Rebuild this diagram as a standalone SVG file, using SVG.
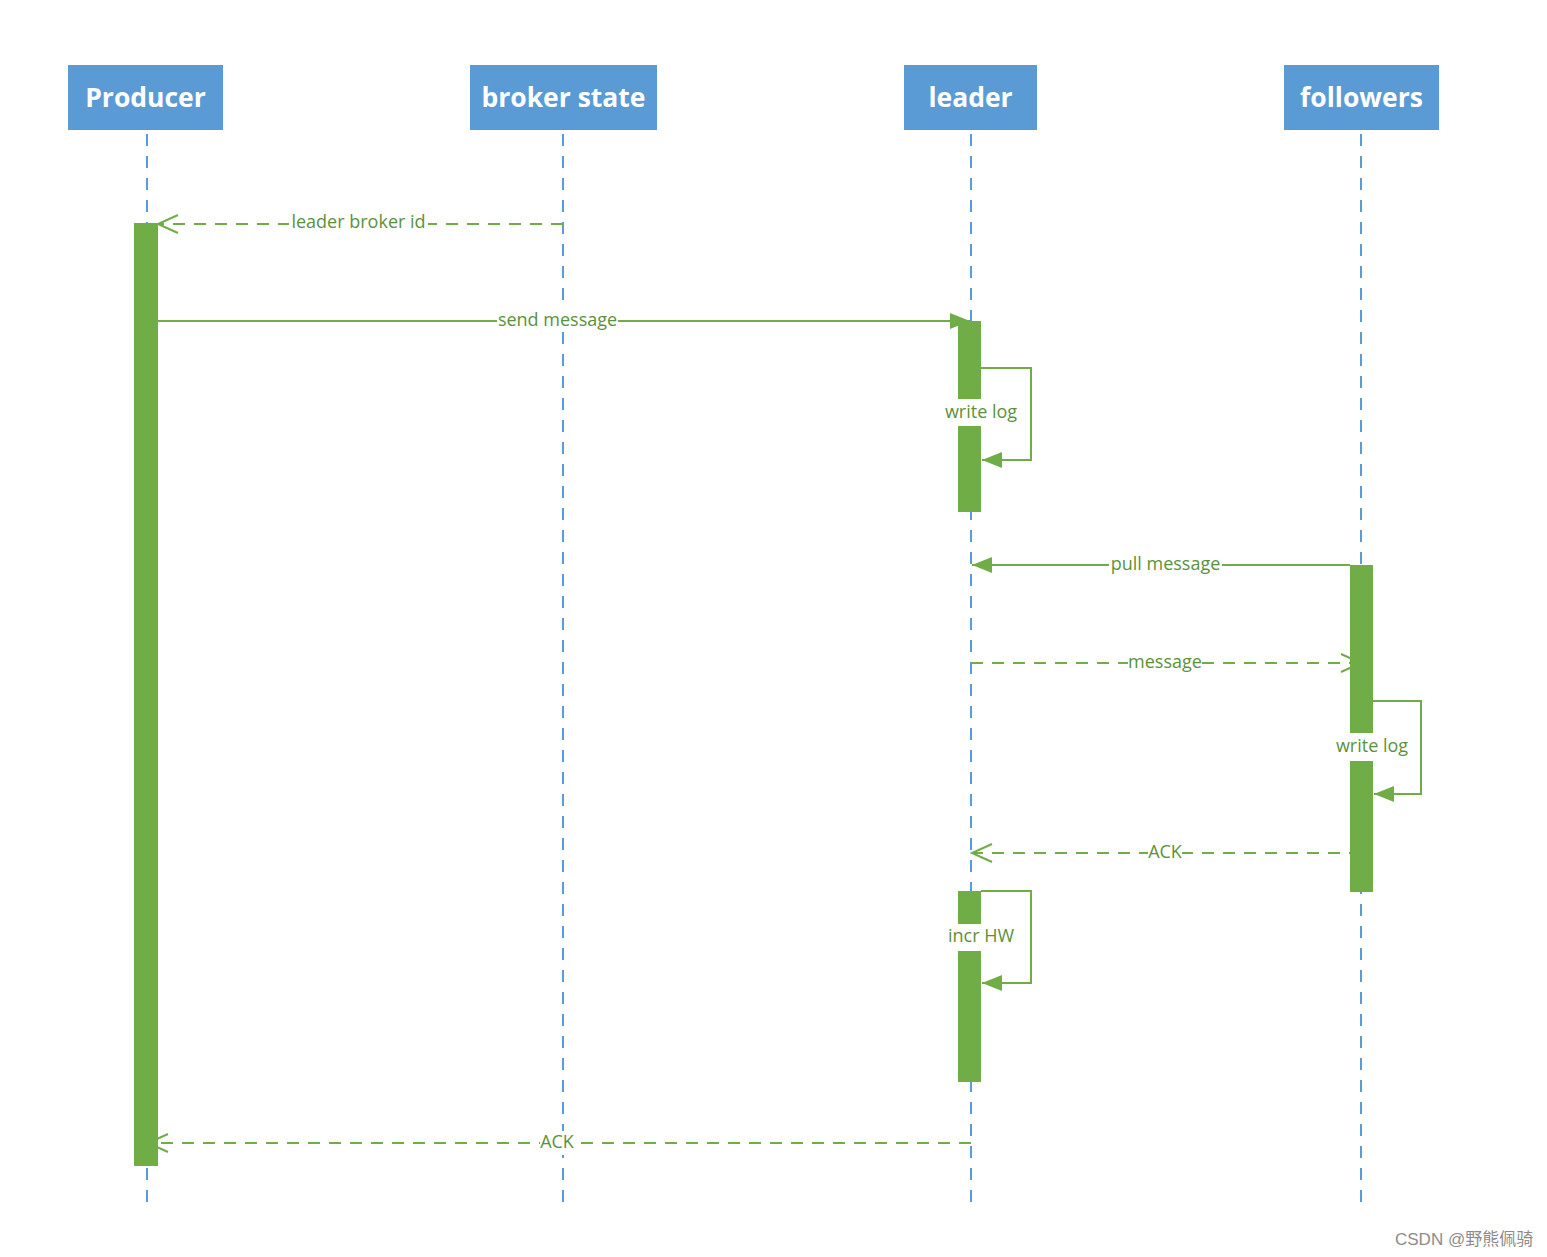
<svg xmlns="http://www.w3.org/2000/svg" width="1547" height="1257" viewBox="0 0 1547 1257">
<style>
.head{fill:#5b9bd5}
.headt{font-family:"Open Sans","Liberation Sans",sans-serif;font-weight:bold;font-size:26.5px;fill:#ffffff;text-anchor:middle}
.life{stroke:#5b9bd5;stroke-width:2;stroke-dasharray:12,10;fill:none}
.bar{fill:#70ad47}
.msg{stroke:#70ad47;stroke-width:2;fill:none}
.dash{stroke-dasharray:12,9}
.bg{fill:#ffffff}
.lbl{font-family:"Open Sans","Liberation Sans",sans-serif;font-size:18px;fill:#5b9239;text-anchor:middle}
.wm{font-family:"Liberation Sans","Noto Sans CJK SC",sans-serif;font-size:17px;fill:#8c8c8c}
</style>
<defs>
<marker id="fill" markerUnits="userSpaceOnUse" markerWidth="22" markerHeight="18" refX="20" refY="9" orient="auto">
<path d="M0,1 L20,9 L0,17 z" fill="#70ad47"/>
</marker>
<marker id="open" markerUnits="userSpaceOnUse" markerWidth="24" markerHeight="22" refX="21" refY="11" orient="auto">
<path d="M1,2 L21,11 L1,20" fill="none" stroke="#70ad47" stroke-width="2"/>
</marker>
</defs>
<rect width="1547" height="1257" fill="#ffffff"/>

<g id="producer">
<rect class="head" x="68" y="65" width="155" height="65"/>
<text class="headt" x="145.5" y="106.5">Producer</text>
<line class="life" x1="147" y1="134" x2="147" y2="1202"/>
<rect class="bar" x="134" y="223" width="24" height="943"/>
</g>

<g id="broker-state">
<rect class="head" x="470" y="65" width="187" height="65"/>
<text class="headt" x="563.5" y="106.5">broker state</text>
<line class="life" x1="563" y1="134" x2="563" y2="1202"/>
</g>

<g id="leader">
<rect class="head" x="904" y="65" width="133" height="65"/>
<text class="headt" x="970.5" y="106.5">leader</text>
<line class="life" x1="971" y1="134" x2="971" y2="1202"/>
<rect class="bar" x="958" y="321" width="23" height="191"/>
<rect class="bar" x="958" y="891" width="23" height="191"/>
</g>

<g id="followers">
<rect class="head" x="1284" y="65" width="155" height="65"/>
<text class="headt" x="1361.5" y="106.5">followers</text>
<line class="life" x1="1361" y1="134" x2="1361" y2="1202"/>
<rect class="bar" x="1350" y="565" width="23" height="327"/>
</g>

<g id="connectors">
<line class="msg dash" x1="563" y1="224" x2="158" y2="224" marker-end="url(#open)"/>
<rect class="bg" x="289" y="211" width="139" height="24"/>
<text class="lbl" x="358.5" y="228">leader broker id</text>

<line class="msg" x1="147" y1="321" x2="970" y2="321" marker-end="url(#fill)"/>
<rect class="bg" x="497" y="308" width="121" height="24"/>
<text class="lbl" x="557.5" y="326">send message</text>

<polyline class="msg" points="981,368 1031,368 1031,460 982,460" marker-end="url(#fill)"/>
<rect class="bg" x="942" y="399" width="78" height="27"/>
<text class="lbl" x="981" y="418">write log</text>

<line class="msg" x1="1350" y1="565" x2="972" y2="565" marker-end="url(#fill)"/>
<rect class="bg" x="1109" y="553" width="113" height="24"/>
<text class="lbl" x="1165.5" y="570">pull message</text>

<line class="msg dash" x1="971" y1="663" x2="1361" y2="663" marker-end="url(#open)"/>
<rect class="bg" x="1128" y="651" width="74" height="24"/>
<text class="lbl" x="1165" y="668">message</text>

<polyline class="msg" points="1373,701 1421,701 1421,794 1374,794" marker-end="url(#fill)"/>
<rect class="bg" x="1333" y="733" width="78" height="28"/>
<text class="lbl" x="1372" y="752">write log</text>

<line class="msg dash" x1="1361" y1="853" x2="972" y2="853" marker-end="url(#open)"/>
<rect class="bg" x="1148" y="841" width="34" height="24"/>
<text class="lbl" x="1165" y="858">ACK</text>

<polyline class="msg" points="981,891 1031,891 1031,983 982,983" marker-end="url(#fill)"/>
<rect class="bg" x="945" y="924" width="72" height="27"/>
<text class="lbl" x="981" y="942">incr HW</text>

<line class="msg dash" x1="971" y1="1143" x2="148" y2="1143" marker-end="url(#open)"/>
<rect class="bg" x="540" y="1131" width="34" height="24"/>
<text class="lbl" x="557" y="1148">ACK</text>
</g>

<text class="wm" x="1395" y="1245">CSDN @野熊佩骑</text>
</svg>
